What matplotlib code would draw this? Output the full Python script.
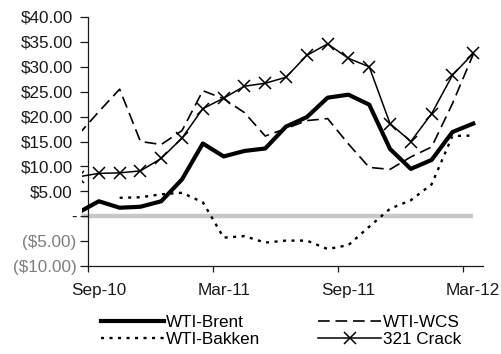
import numpy as np
import matplotlib; matplotlib.use("Agg")
import matplotlib.pyplot as plt
from matplotlib.transforms import ScaledTranslation

plt.rcParams['font.family'] = ['Liberation Sans', 'DejaVu Sans']

# monthly spreads, Aug-10 .. Mar-12 ($/bbl)
months = ["Aug-10", "Sep-10", "Oct-10", "Nov-10", "Dec-10", "Jan-11", "Feb-11", "Mar-11",
          "Apr-11", "May-11", "Jun-11", "Jul-11", "Aug-11", "Sep-11", "Oct-11", "Nov-11",
          "Dec-11", "Jan-12", "Feb-12", "Mar-12"]
wti_brent = [0.7, 3.0, 1.7, 1.9, 3.0, 7.4, 14.6, 12.0, 13.1, 13.6, 18.0, 19.9, 23.8, 24.4,
             22.4, 13.5, 9.5, 11.3, 16.9, 18.6]
wti_wcs = [16.3, 21.0, 25.5, 15.0, 14.4, 17.2, 25.2, 23.6, 20.8, 16.1, 17.6, 19.2, 19.6, 14.5,
           9.8, 9.4, 11.9, 13.9, 22.6, 32.5]
wti_bakken = [np.nan, np.nan, 3.7, 3.8, 4.4, 4.7, 2.8, -4.3, -4.0, -5.3, -4.9, -4.9, -6.6, -5.8,
              -2.1, 1.5, 3.2, 6.4, 16.1, 16.2]
crack_321 = [7.9, 8.6, 8.7, 9.1, 11.6, 15.7, 21.6, 23.7, 26.1, 26.7, 27.9, 32.3, 34.6, 31.7,
             30.0, 18.6, 15.0, 20.6, 28.3, 32.7]
label_months = ["Sep-10", "Mar-11", "Sep-11", "Mar-12"]
yticks = list(range(-10, 45, 5))

x = np.arange(len(months))
DARK = "#1a1a1a"

fig = plt.figure(figsize=(5.02, 3.54), dpi=100)
ax = fig.add_axes([82/502, 1-266/354, (483-82)/502, (266-17)/354])

ax.plot(x, np.zeros(len(x)), color="#c8c8c8", lw=3.2, solid_capstyle="butt", zorder=1)
h_brent, = ax.plot(x, wti_brent, color="black", lw=3.0, label="WTI-Brent", zorder=3)
h_wcs, = ax.plot(x, wti_wcs, color="black", lw=1.2, ls=(0, (7, 3.5)), label="WTI-WCS", zorder=3)
h_bak, = ax.plot(x, wti_bakken, color="black", lw=1.7, ls=(0, (1.3, 2.3)), label="WTI-Bakken", zorder=3)
h_crk, = ax.plot(x, crack_321, color="black", lw=1.1, marker="x", ms=9, mew=1.1, label="321 Crack", zorder=4)

ax.set_xlim(0.19, 19.47)
ax.set_ylim(-10, 40)

for s in ("top", "right"):
    ax.spines[s].set_visible(False)
ax.spines["left"].set_position(("data", 0.5))
ax.spines["bottom"].set_bounds(0.5, 19.47)
for s in ("left", "bottom"):
    ax.spines[s].set_color(DARK)
    ax.spines[s].set_linewidth(0.9)

# ticks between categories, labels on categories
lab_pos = [months.index(m) for m in label_months]
ax.set_xticks([p - 0.5 for p in lab_pos])
ax.set_xticklabels([])
ax.set_xticks(lab_pos, minor=True)
ax.set_xticklabels(label_months, minor=True)
ax.tick_params(axis="x", which="major", direction="out", length=4, width=0.9, color=DARK)
ax.tick_params(axis="x", which="minor", length=0, pad=12, labelsize=12.3, labelcolor=DARK)

def money(v):
    if v == 0:
        return "-"
    if v < 0:
        return f"(${-v:.2f})"
    return f"${v:.2f}"

ax.set_yticks(yticks)
ax.set_yticklabels([money(v) for v in yticks])
ax.tick_params(axis="y", direction="out", length=6, width=0.9, color=DARK, pad=2.5, labelsize=12.3)
shift = ScaledTranslation(-4/100, 0, fig.dpi_scale_trans)
for v, lab in zip(yticks, ax.get_yticklabels()):
    if v < 0:
        lab.set_color("#7f7f7f")
    else:
        lab.set_color(DARK)
        if v > 0:
            lab.set_transform(lab.get_transform() + shift)

# legend filled row by row: Brent, WCS / Bakken, Crack
fig.legend([h_brent, h_bak, h_wcs, h_crk], ["WTI-Brent", "WTI-Bakken", "WTI-WCS", "321 Crack"],
           loc="center", bbox_to_anchor=(281/502, 1-331/354), ncol=2, frameon=False,
           fontsize=12.3, handlelength=3.7, handletextpad=0.1, columnspacing=3.4,
           labelspacing=0.1, borderpad=0)

fig.savefig("out.png", dpi=100)
